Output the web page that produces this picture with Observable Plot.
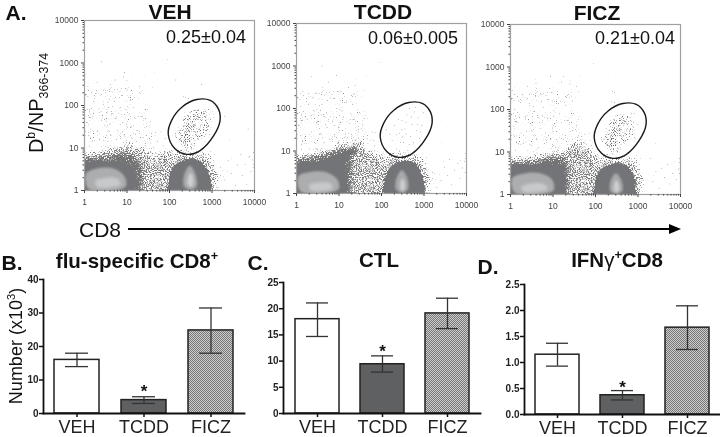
<!DOCTYPE html>
<html><head><meta charset="utf-8">
<script src="https://cdn.jsdelivr.net/npm/d3@7"></script>
<script src="https://cdn.jsdelivr.net/npm/@observablehq/plot@0.6"></script>
<style>
html,body{margin:0;padding:0;background:#fff}
#page{position:relative;width:720px;height:437px;overflow:hidden;font-family:"Liberation Sans",Arial,sans-serif;color:#111;filter:blur(.35px)}
.p{position:absolute}.p svg{overflow:visible;background:none;display:block}
.t{position:absolute;white-space:nowrap;line-height:1;transform:translate(-50%,-50%)}
.t sup,.t sub{line-height:0;font-size:62%}
.r{transform:translate(-50%,-50%) rotate(-90deg)}
</style></head><body>
<svg width="0" height="0" style="position:absolute"><defs id="defs">
<pattern id="dither" width="2" height="2" patternUnits="userSpaceOnUse"><rect width="2" height="2" fill="#cdcdcd"/><rect width="1" height="1" fill="#777"/><rect x="1" y="1" width="1" height="1" fill="#777"/></pattern>
</defs></svg>
<div id="page"></div>
<script>
// ---------- bar chart data ----------
const groups = ["VEH","TCDD","FICZ"];
const fluMean = [16,4,24.8],    fluLow = [14,3,18],      fluHigh = [18,5,31.5];
const ctlMean = [18,9.4,19.1],  ctlLow = [14.7,7.9,16.2], ctlHigh = [21.1,11,22];
const ifnMean = [1.15,.37,1.67],ifnLow = [.93,.28,1.25],  ifnHigh = [1.37,.46,2.09];
const barFills = ["#fff","#5f6062","url(#dither)"];

// ---------- flow plots, in decades (log10) ----------
const gate = [[1.97,1.33],[2.05,1.65],[2.29,1.96],[2.64,2.14],[2.96,2.12],[3.15,1.92],[3.19,1.65],[3.04,1.29],[2.72,.94],[2.41,.85],[2.13,.98]];

const vehSparse = [[-.2,1],[-.2,2.5],[.5,2.6],[1.2,2.6],[1.6,1.6],[1.9,1],[1.2,.8]];
const vehHalo = [[-.2,.8],[.4,.95],[.8,1.08],[1.2,1.15],[1.45,.98],[1.6,.82],[1.9,.95],[2.2,.95],[2.7,.9],[3.05,.72],[3.2,.3],[3.15,-.2],[-.2,-.2]];
const vehDense = [[-.2,.76],[.5,.82],[.9,.92],[1.25,.8],[1.4,.5],[1.35,-.2],[-.2,-.2]];
const vehDarkL = [[-.2,.66],[.3,.7],[.9,.68],[1.15,.52],[1.22,.25],[1.2,-.2],[-.2,-.2]];
const vehDarkR = [[2,-.2],[1.98,.3],[2.1,.58],[2.4,.74],[2.7,.72],[2.88,.52],[2.97,.25],[2.95,-.2]];
const vehMidL = [[.04,.4],[.3,.52],[.7,.51],[.94,.33],[.98,.12],[.85,.03],[.1,.03]];
const vehMidR = [[2.35,.08],[2.34,.35],[2.48,.58],[2.62,.35],[2.63,.08],[2.5,.02]];
const vehCoreL = [[.25,.22],[.5,.3],[.78,.28],[.85,.14],[.6,.07],[.3,.08]];
const vehCoreR = [[2.42,.15],[2.44,.33],[2.49,.42],[2.55,.33],[2.56,.15],[2.5,.08]];
const vehCloud = [[2.1,1.2],[2.25,1.6],[2.6,1.95],[2.9,1.9],[3,1.6],[2.8,1.2],[2.5,.98],[2.25,1]];
const vehDots = [[.08,2.45],[.12,1.9],[.05,1.6],[.2,1.75],[.3,1.4],[.1,1.3],[.18,1.15],[.35,1.2],[.4,1.65],[.44,2.03],[.5,2.3],[.54,1.85],[.6,1.55],[.62,1.3],[.7,2.1],[.72,1.7],[.78,1.42],[.82,2.18],[.85,1.95],[.9,1.6],[.95,1.28],[1,2.35],[1.05,1.8],[1.1,1.5],[1.18,1.72],[1.25,1.42],[1.3,2.45],[1.38,1.25],[.72,2.6],[.92,2.67],[1,2.58],[.4,3.03],[.26,2.28],[.34,1.92],[.58,2.15],[.66,1.98],[.48,1.52],[.55,1.15],[.76,1.2],[.84,1.55],[1.12,1.22],[1.22,1.15],[1.45,1.3],[1.55,1.12],[1.62,1.02],[1.72,1.16],[1.8,1.38],[1.85,1.05],[1.9,1.22],[2.15,2.6],[2.75,2.5],[3.3,1.75],[3.85,1.45],[3.2,.55],[3.3,.25],[3.38,.7],[3.45,.4],[3.55,.12],[3.6,.6],[3.68,.85],[3.72,.35],[3.78,.62],[3.82,.15],[3.88,.8],[3.92,.45],[3.96,.72],[3.97,.55],[3.98,.62],[3.98,.9],[.22,2.1],[.15,1.45],[.64,1.78],[.98,1.9],[1.08,2.12],[.3,2.55],[1.15,1.95]];
const vehGateDots = [[2.2,1.4],[2.3,1.3],[2.35,1.52],[2.42,1.2],[2.46,1.4],[2.5,1.62],[2.55,1.3],[2.6,1.55],[2.65,1.75],[2.7,1.45],[2.75,1.65],[2.8,1.85],[2.5,1.83],[2.38,1.1],[2.58,1.1],[2.9,1.5],[2.33,1.68],[2.62,1.38],[2.68,1.9],[2.45,1.28],[2.52,1.48],[2.58,1.7],[2.4,1.42],[2.48,1.15],[2.72,1.28]];

const tcddSparse = [[-.2,1],[-.2,2.2],[.4,2.5],[1.2,2.6],[1.6,2],[1.9,1],[1.2,1]];
const tcddHalo = [[-.2,.85],[.5,1],[1,1.2],[1.4,1.28],[1.65,1.12],[1.9,.9],[2.3,.95],[2.8,.9],[3.1,.7],[3.2,.25],[3.15,-.2],[-.2,-.2]];
const tcddDense = [[-.2,.8],[.5,.88],[.9,1.02],[1.3,1.14],[1.52,1.05],[1.35,.85],[1.3,.4],[1.35,-.2],[-.2,-.2]];
const tcddDarkL = [[-.2,.72],[.5,.76],[.85,.88],[1.25,1.02],[1.42,1],[1.2,.84],[1.12,.6],[1.2,.2],[1.2,-.2],[-.2,-.2]];
const tcddDarkR = [[2.07,-.2],[2.05,.3],[2.2,.62],[2.5,.78],[2.8,.72],[2.96,.45],[3.02,.2],[3,-.2]];
const tcddMidL = [[.04,.4],[.3,.5],[.7,.5],[.96,.33],[1,.12],[.88,.05],[.1,.05]];
const tcddMidR = [[2.34,.1],[2.36,.38],[2.48,.55],[2.6,.38],[2.62,.1],[2.5,.02]];
const tcddCoreL = [[.3,.2],[.55,.26],[.8,.24],[.85,.12],[.6,.06],[.35,.07]];
const tcddCoreR = [[2.44,.12],[2.45,.28],[2.49,.36],[2.54,.28],[2.55,.12],[2.5,.06]];
const tcddDots = [[.05,1.6],[.12,1.15],[.1,2.05],[.2,1.3],[.25,1.75],[.3,1.05],[.35,1.45],[.42,1.2],[.46,2.35],[.5,1.7],[.55,1.4],[.6,2.1],[.65,1.2],[.7,1.9],[.72,1.55],[.8,2.25],[.85,1.7],[.9,1.35],[.95,2],[1,1.55],[1.05,2.4],[1.1,1.8],[1.15,1.4],[1.22,2.5],[1.25,1.65],[1.32,2.1],[1.38,2.55],[1.3,1.3],[1.45,1.45],[1.5,1.2],[.36,2.75],[.75,2.62],[.6,3],[.15,2.4],[.28,2.1],[.4,1.95],[.58,1.85],[.78,1.28],[.98,1.2],[1.08,1.95],[1.18,2.15],[1.28,1.88],[1.6,1.05],[1.68,1.18],[1.75,1.02],[1.82,1.25],[1.78,1.45],[1.84,1.12],[3.2,.5],[3.3,.15],[3.4,.3],[3.48,.62],[3.55,.42],[3.6,.8],[3.65,.22],[3.72,.55],[3.8,.7],[3.85,.35],[3.9,.6],[3.95,.75],[3.97,.5],[3.98,.82],[3.98,.95],[.9,1.6],[.68,1.62],[.48,1.05]];
const tcddGateDots = [[2.12,1.5],[2.25,1.25],[2.3,1.6],[2.35,1.05],[2.42,1.42],[2.48,1.72],[2.52,1.2],[2.55,1.52],[2.6,1.85],[2.62,1.02],[2.68,1.35],[2.72,1.62],[2.78,1.92],[2.82,1.48],[2.86,1.78],[2.9,1.3],[2.95,1.6],[2.98,1.9],[2.4,1.75],[2.5,1.35],[2.65,1.15],[2.75,1.2],[2.45,.95],[2.35,1.38],[2.58,1.68],[2.7,1.8],[2.85,1.62],[2.2,1.4],[2.92,1.45],[2.58,1.4],[2.66,2],[2.8,2.02],[2.48,1.5]];

const ficzSparse = [[-.2,1],[-.2,2.5],[.6,2.65],[1.3,2.6],[1.6,1.9],[1.9,1.1],[1.2,.9]];
const ficzHalo = [[-.2,.8],[.5,.88],[.9,1],[1.3,1.14],[1.55,1.25],[1.8,1.28],[1.95,.95],[2.3,.88],[2.8,.85],[3.05,.7],[3.15,.25],[3.1,-.2],[-.2,-.2]];
const ficzDense = [[-.2,.76],[.6,.82],[1,.92],[1.32,.88],[1.4,.5],[1.35,-.2],[-.2,-.2]];
const ficzDarkL = [[-.2,.68],[.5,.72],[.95,.74],[1.22,.72],[1.28,.45],[1.3,.15],[1.28,-.2],[-.2,-.2]];
const ficzDarkR = [[2,-.2],[1.98,.3],[2.12,.6],[2.4,.73],[2.7,.72],[2.88,.5],[2.95,.2],[2.92,-.2]];
const ficzMidL = [[.04,.38],[.3,.49],[.7,.5],[.98,.35],[1.02,.12],[.9,.04],[.1,.04]];
const ficzMidR = [[2.35,.08],[2.36,.33],[2.48,.5],[2.61,.33],[2.63,.08],[2.5,.02]];
const ficzCoreL = [[.25,.18],[.5,.26],[.8,.24],[.88,.13],[.6,.06],[.3,.07]];
const ficzCoreR = [[2.43,.1],[2.44,.25],[2.49,.34],[2.55,.25],[2.56,.1],[2.5,.05]];
const ficzCloud = [[2.12,1.25],[2.3,1.65],[2.55,1.88],[2.85,1.85],[2.92,1.55],[2.75,1.2],[2.5,.98],[2.25,1]];
const ficzDots = [[.04,2.45],[.1,2],[.15,1.7],[.2,2.2],[.25,1.45],[.3,1.2],[.35,1.8],[.4,2.55],[.45,2.15],[.5,1.5],[.55,1.95],[.6,2.62],[.62,1.3],[.68,1.7],[.72,2.35],[.78,2.05],[.82,1.45],[.88,1.8],[.92,2.5],[.98,2.2],[1.05,1.6],[1.1,2.42],[1.15,1.9],[1.2,2.65],[1.25,1.3],[1.3,2.1],[1.4,2.6],[1.25,2.78],[.8,1.2],[.5,1.15],[.18,1.2],[.08,1.4],[.7,1.55],[.75,1.85],[.65,1.1],[.95,1.3],[1.02,1.15],[1.45,2.2],[1.55,2.55],[2.4,2.42],[2.45,2.4],[3.1,1.45],[3.3,.85],[3.35,.3],[3.42,.55],[3.5,.15],[3.55,.62],[3.62,.4],[3.7,.7],[3.75,.25],[3.82,.5],[3.9,.35],[3.96,.6],[3.97,.75],[3.98,.85],[3.98,.5],[1.6,1.38],[1.75,1.42],[1.9,1.15],[.38,1.48],[.58,2.3]];
const ficzGateDots = [[2.2,1.3],[2.25,1.55],[2.3,1.15],[2.38,1.42],[2.42,1.7],[2.46,1.25],[2.5,1.55],[2.54,1.08],[2.58,1.75],[2.6,1.4],[2.66,1.62],[2.7,1.25],[2.75,1.82],[2.8,1.5],[2.44,1.48],[2.52,1.38],[2.56,1.62],[2.62,1.82],[2.35,1.25],[2.48,1.85],[2.9,1.7],[2.85,1.9],[3,1.65],[2.92,1.35]];

// ---------- scale ticks ----------
const decadeTicks = [1,10,100,1000,10000];
const minorTicks = [1,10,100,1000].flatMap(d => [2,3,4,5,6,7,8,9].map(k => k*d));

// ---------- stipple textures for the dense clouds (style only) ----------
function stipple(id,blur,c,T,color,seed,freq=.95,K=6){
  return `<filter id="${id}" x="-30%" y="-30%" width="160%" height="160%" color-interpolation-filters="sRGB">
  <feGaussianBlur in="SourceAlpha" stdDeviation="${blur}" result="b"/>
  <feTurbulence type="fractalNoise" baseFrequency="${freq}" numOctaves="2" seed="${seed}" result="n"/>
  <feComposite in="b" in2="n" operator="arithmetic" k1="0" k2="${K*c}" k3="${K}" k4="${-K*T}" result="m"/>
  <feFlood flood-color="${color}" result="f"/><feComposite in="f" in2="m" operator="in"/></filter>`;
}
document.getElementById("defs").insertAdjacentHTML("beforeend",
  stipple("gSparse",5,.13,.8,"#8a8a8a",2)+
  stipple("gCloud",3,.25,.8,"#6c6c6c",5)+
  stipple("gLoose",4,.36,.8,"#7a7a7a",7)+
  stipple("gDense",3,.55,.8,"#747474",9)+
  stipple("gDark",1.6,1,1,"#737477",11));
// SVG DOM needs re-parsing for inserted filter elements
{const h=document.querySelector("#defs").parentNode;h.innerHTML=h.innerHTML;}

// ---------- helpers ----------
const page = document.getElementById("page");
function place(svg,left,top){const d=document.createElement("div");d.className="p";d.style.left=left+"px";d.style.top=top+"px";d.append(svg);page.append(d);}
function label(html,x,y,size,bold,rot){const d=document.createElement("div");d.className="t"+(rot?" r":"");d.innerHTML=html;d.style.left=x+"px";d.style.top=y+"px";d.style.fontSize=size+"px";d.style.fontWeight=bold?"700":"400";page.append(d);}
const X = d => 10**d[0], Y = d => 10**d[1];
const closed = "catmull-rom-closed";
const region = (poly,fill,imageFilter,curve=closed) => Plot.line(poly,{x:X,y:Y,fill,stroke:"none",curve,clip:true,imageFilter});

function flow(left,top,regions,dots){
  const mL=36,mT=6,mB=20,mR=24;
  const svg = Plot.plot({
    width:170+mL+mR,height:170+mT+mB,marginLeft:mL,marginTop:mT,marginBottom:mB,marginRight:mR,
    x:{type:"log",domain:[1,10000],axis:null},y:{type:"log",domain:[1,10000],axis:null},
    style:{fontFamily:"'Liberation Sans',Arial,sans-serif",background:"none"},
    marks:[
      ...regions.map(([p,f,flt,c])=>region(p,f,flt,c)),
      Plot.dot(dots,{x:X,y:Y,r:.45,fill:"#6a6a6a",stroke:"none"}),
      Plot.line(gate,{x:X,y:Y,curve:closed,stroke:"#1a1a1a",strokeWidth:1.4}),
      Plot.frame({stroke:"#a0a0a0",strokeWidth:1.2}),
      Plot.axisX({ticks:minorTicks,tickFormat:()=>"",tickSize:1.5,label:null,stroke:"#444"}),
      Plot.axisY({ticks:minorTicks,tickFormat:()=>"",tickSize:1.5,label:null,stroke:"#444"}),
      Plot.axisX({ticks:decadeTicks,tickFormat:d=>String(d),tickSize:3,tickPadding:5,label:null,fontSize:8.5,fill:"#444",stroke:"#444"}),
      Plot.axisY({ticks:decadeTicks,tickFormat:d=>String(d),tickSize:3,tickPadding:3,label:null,fontSize:8.5,fill:"#444",stroke:"#444"})
    ]});
  place(svg,left-mL,top-mT);
}
function blobs(sparse,halo,dense,darkL,darkR,midL,midR,coreL,coreR,cloud){
  return [
    [sparse,"#000","url(#gSparse)"],
    [halo,"#000","url(#gLoose)","linear"],
    ...(cloud?[[cloud,"#000","url(#gCloud)"]]:[]),
    [dense,"#000","url(#gDense)","linear"],
    [darkL,"#000","url(#gDark)","linear"],
    [darkR,"#000","url(#gDark)"],
    [midL,"#acadae","blur(1.2px)"],
    [midR,"#a8a9ab","blur(1.2px)"],
    [coreL,"#c8c9ca","blur(1.8px)"],
    [coreR,"#cdcecf","blur(1px)"]
  ];
}
flow(84,20,blobs(vehSparse,vehHalo,vehDense,vehDarkL,vehDarkR,vehMidL,vehMidR,vehCoreL,vehCoreR,vehCloud),[...vehDots,...vehGateDots]);
flow(296,23,blobs(tcddSparse,tcddHalo,tcddDense,tcddDarkL,tcddDarkR,tcddMidL,tcddMidR,tcddCoreL,tcddCoreR,null),[...tcddDots,...tcddGateDots]);
flow(510,24,blobs(ficzSparse,ficzHalo,ficzDense,ficzDarkL,ficzDarkR,ficzMidL,ficzMidR,ficzCoreL,ficzCoreR,ficzCloud),[...ficzDots,...ficzGateDots]);

function bars(left,top,w,h,mean,low,high,yMax,yTicks,fmt,star){
  const mL=35,mT=5,mB=22;
  const rows = groups.map((g,i)=>({g,m:mean[i],lo:low[i],hi:high[i],fill:barFills[i]}));
  const svg = Plot.plot({
    width:mL+w,height:mT+h+mB,marginLeft:mL,marginRight:0,marginTop:mT,marginBottom:mB,
    x:{type:"band",domain:groups,paddingInner:.33,paddingOuter:.165,axis:null,align:.5},
    y:{domain:[0,yMax],axis:null},
    style:{fontFamily:"'Liberation Sans',Arial,sans-serif",background:"none"},
    marks:[
      Plot.barY(rows,{x:"g",y:"m",fill:"fill",stroke:"#222",strokeWidth:1.5}),
      Plot.ruleX(rows,{x:"g",y1:"lo",y2:"hi",stroke:"#333",strokeWidth:1.3}),
      Plot.tickY(rows,{x:"g",y:"hi",stroke:"#333",strokeWidth:1.3,insetLeft:11,insetRight:11}),
      Plot.tickY(rows,{x:"g",y:"lo",stroke:"#333",strokeWidth:1.3,insetLeft:11,insetRight:11}),
      Plot.text([star],{x:()=>groups[1],y:d=>d,text:()=>"*",fontSize:17,fontWeight:"700",fill:"#111",dy:3}),
      Plot.frame({anchor:"left",stroke:"#111",strokeWidth:1.8}),
      Plot.frame({anchor:"bottom",stroke:"#111",strokeWidth:1.8}),
      Plot.axisY({ticks:yTicks,tickFormat:fmt,tickSize:4,tickPadding:1,label:null,fontSize:10,fontWeight:"700",fill:"#222",stroke:"#111",strokeWidth:1.5}),
      Plot.axisX({tickSize:4,tickPadding:3,label:null,fontSize:18,fill:"#222",stroke:"#111",strokeWidth:1.5})
    ]});
  place(svg,left-mL,top-mT);
}
bars(43,279,201,134,fluMean,fluLow,fluHigh,40,[0,10,20,30,40],d=>String(d),7.5);
bars(283,282,197,131,ctlMean,ctlLow,ctlHigh,25,[0,5,10,15,20,25],d=>String(d),12.4);
bars(524,284,196,130,ifnMean,ifnLow,ifnHigh,2.5,[0,.5,1,1.5,2,2.5],d3.format(".1f"),.58);

// ---------- text ----------
label("A.",16,11.5,21,true);
label("VEH",170,10.5,21,true);
label("TCDD",383,10.5,21,true);
label("FICZ",597,12,21,true);
label("0.25±0.04",206,37,18);
label("0.06±0.005",413,38,18);
label("0.21±0.04",635,38,18);
label("D<sup>b</sup>/NP<sub>366-374</sub>",36,103,20,false,true);
label("CD8",100,229,21);
label("B.",12,262,21,true);
label("flu-specific CD8<sup>+</sup>",137,261,20.5,true);
label("C.",258,262,21,true);
label("CTL",379,260,20.5,true);
label("D.",488,266,21,true);
label("IFN<span style='font-weight:400'>γ</span><sup>+</sup>CD8",617,260,20.5,true);
label("Number (x10<sup>3</sup>)",16,346,18,false,true);

// arrow under the flow plots
const ns="http://www.w3.org/2000/svg",arrow=document.createElementNS(ns,"svg");
arrow.setAttribute("width",720);arrow.setAttribute("height",437);arrow.style.cssText="position:absolute;left:0;top:0;pointer-events:none";
arrow.innerHTML='<path d="M128 229H672" stroke="#000" stroke-width="2"/><path d="M669 224L681 229L669 234Z" fill="#000"/>';
page.append(arrow);
</script></body></html>
